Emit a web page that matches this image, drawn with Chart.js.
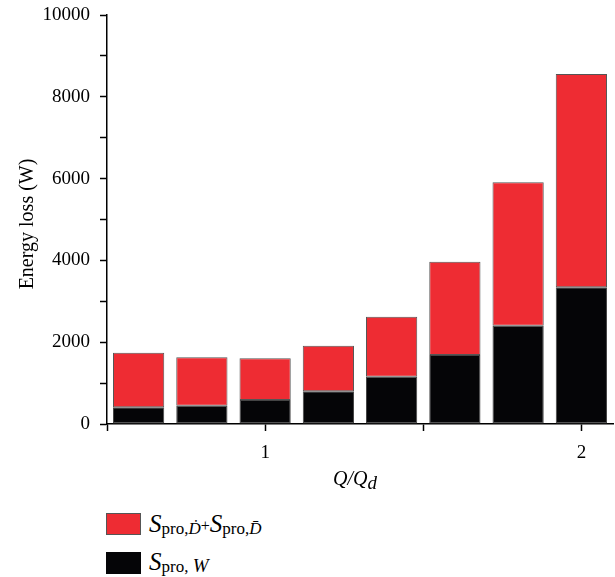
<!DOCTYPE html>
<html>
<head>
<meta charset="utf-8">
<script src="https://cdn.jsdelivr.net/npm/chart.js@4.4.1/dist/chart.umd.min.js"></script>
<style>
  html, body { margin: 0; padding: 0; background: #fff; }
  #wrap { position: relative; width: 615px; height: 577px; font-family: "Liberation Serif", "DejaVu Serif", serif; color: #000; }
  #chartBox { position: absolute; left: 0; top: 0; width: 615px; height: 500px; }
  .box { position: absolute; left: 106px; width: 35px; height: 22px; box-sizing: border-box; }
  .lbl { position: absolute; left: 149px; height: 24px; line-height: 24px; font-size: 25px; white-space: nowrap; }
  .lbl sub { font-size: 17px; line-height: 0; vertical-align: -2px; }
  .plus { font-size: 16px; vertical-align: 1px; line-height: 0; }
</style>
</head>
<body>
<div id="wrap">
  <div id="chartBox"><canvas id="c"></canvas></div>
  <div class="box" style="top:513px; background:#ee2c33; border:1px solid #555;"></div>
  <div class="lbl" style="top:512px;"><i>S</i><sub>pro,<i>Ḋ</i></sub><span class="plus">+</span><i>S</i><sub>pro,<i>D̄</i></sub></div>
  <div class="box" style="top:552px; background:#050507;"></div>
  <div class="lbl" style="top:550px;"><i>S</i><sub>pro, <i style="font-size:19px">W</i></sub></div>
</div>
<script>
// Flow ratio at which each case was computed
const qRatio = [0.6, 0.8, 1.0, 1.2, 1.4, 1.6, 1.8, 2.0];
// Wall entropy-production loss (W)
const sProW = [408, 447, 587, 800, 1156, 1687, 2403, 3342];
// Direct + turbulent dissipation loss (W)
const sProD = [1335, 1184, 1019, 1114, 1467, 2281, 3507, 5215];
// x-axis ticks and their labels
const xTickValues = [0.5, 1, 1.5, 2];
const xTickLabels = ['', '1', '', '2'];
// y-axis labelled values
const yTickLabelStep = 2000;

const serif = '"Liberation Serif", "DejaVu Serif", serif';

const toPoints = (vals) => vals.map((v, i) => ({ x: qRatio[i], y: v }));

const axisTitles = {
  id: 'axisTitles',
  afterDraw(chart) {
    const { ctx, chartArea } = chart;
    ctx.save();
    ctx.fillStyle = '#000';
    // y-axis title
    ctx.font = '20px ' + serif;
    ctx.textAlign = 'center';
    ctx.textBaseline = 'alphabetic';
    ctx.translate(33, 224);
    ctx.rotate(-Math.PI / 2);
    ctx.fillText('Energy loss (W)', 0, 0);
    ctx.restore();

    // x-axis title: Q/Q with subscript d
    ctx.save();
    ctx.fillStyle = '#000';
    ctx.textBaseline = 'alphabetic';
    ctx.textAlign = 'left';
    const mainFont = 'italic 20px ' + serif;
    const subFont = 'italic 19px ' + serif;
    ctx.font = mainFont;
    const wMain = ctx.measureText('Q/Q').width;
    ctx.font = subFont;
    const wSub = ctx.measureText('d').width;
    const cx = (chartArea.left + chartArea.right) / 2 - 5;
    const x0 = cx - (wMain + wSub) / 2;
    const base = 485;
    ctx.font = mainFont;
    ctx.fillText('Q/Q', x0, base);
    ctx.font = subFont;
    ctx.fillText('d', x0 + wMain, base + 4);
    ctx.restore();
  }
};

new Chart(document.getElementById('c'), {
  type: 'bar',
  data: {
    datasets: [
      {
        label: 'S pro,W',
        data: toPoints(sProW),
        backgroundColor: '#050507',
        borderColor: '#444',
        borderWidth: 1,
        borderSkipped: false
      },
      {
        label: 'S pro,D + S pro,D̄',
        data: toPoints(sProD),
        backgroundColor: '#ee2c33',
        borderColor: '#555',
        borderWidth: 1,
        borderSkipped: false
      }
    ]
  },
  options: {
    responsive: true,
    maintainAspectRatio: false,
    animation: false,
    devicePixelRatio: 1,
    categoryPercentage: 1,
    barPercentage: 0.81,
    layout: { padding: { top: 15, right: 2, left: 0, bottom: 0 } },
    plugins: {
      legend: { display: false },
      tooltip: { enabled: false }
    },
    scales: {
      x: {
        type: 'linear',
        stacked: true,
        offset: false,
        min: 0.5,
        max: 2.1,
        afterBuildTicks(scale) {
          scale.ticks = xTickValues.map(v => ({ value: v }));
        },
        afterFit(scale) {
          scale.height = 76;
          scale.paddingLeft = 0;
          scale.paddingRight = 0;
        },
        grid: {
          offset: false,
          drawOnChartArea: false,
          drawTicks: true,
          tickLength: 7,
          tickColor: '#000',
          tickWidth: 1.5
        },
        border: { display: true, color: '#000', width: 1.5 },
        ticks: {
          autoSkip: false,
          maxRotation: 0,
          padding: 11,
          color: '#000',
          font: { family: serif, size: 19 },
          callback(value) {
            const i = xTickValues.indexOf(value);
            return i >= 0 ? xTickLabels[i] : '';
          }
        }
      },
      y: {
        stacked: true,
        min: 0,
        max: 10000,
        afterFit(scale) {
          scale.width = 107;
          scale.paddingTop = 0;
          scale.paddingBottom = 0;
        },
        grid: {
          drawOnChartArea: false,
          drawTicks: true,
          tickLength: 7,
          tickColor: '#000',
          tickWidth: 1.5
        },
        border: { display: true, color: '#000', width: 1.5 },
        ticks: {
          stepSize: 1000,
          padding: 10,
          color: '#000',
          font: { family: serif, size: 19 },
          callback(value) {
            return value % yTickLabelStep === 0 ? String(value) : '';
          }
        }
      }
    }
  },
  plugins: [axisTitles]
});
</script>
</body>
</html>
